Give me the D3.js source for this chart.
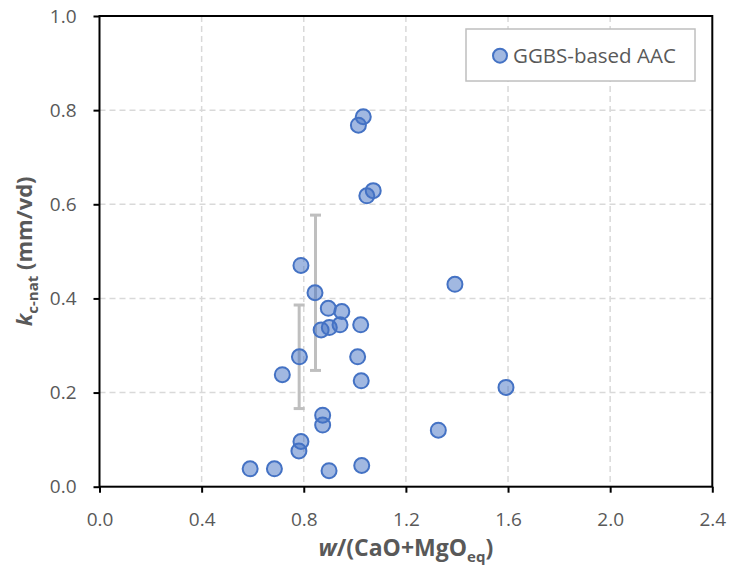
<!DOCTYPE html>
<html>
<head>
<meta charset="utf-8">
<script src="https://cdn.jsdelivr.net/npm/d3@7"></script>
<style>
  html, body { margin: 0; padding: 0; background: #fff; }
  svg { display: block; }
  text { font-family: "Open Sans", "Liberation Sans", sans-serif; fill: #595959; }
</style>
</head>
<body>
<svg id="chart" width="729" height="576"></svg>
<script>
// ---- data ----
const xValues = [0.590, 0.685, 0.781, 0.789, 0.899, 1.027, 1.327, 0.874, 0.874, 0.716,
                 0.783, 1.025, 1.011, 1.592, 0.868, 0.900, 0.942, 1.023, 0.896, 0.949,
                 0.844, 0.789, 1.392, 1.047, 1.072, 1.014, 1.033];
const yValues = [0.038, 0.038, 0.076, 0.096, 0.034, 0.045, 0.120, 0.131, 0.152, 0.238,
                 0.276, 0.225, 0.276, 0.211, 0.333, 0.338, 0.344, 0.344, 0.379, 0.372,
                 0.412, 0.470, 0.430, 0.618, 0.629, 0.768, 0.786];
const errX = [0.846, 0.782];
const errY = [0.412, 0.276];
const errDelta = [0.165, 0.110];
const xTicks = [0.0, 0.4, 0.8, 1.2, 1.6, 2.0, 2.4];
const yTicks = [0.0, 0.2, 0.4, 0.6, 0.8, 1.0];
const seriesName = "GGBS-based AAC";

// ---- layout ----
const svg = d3.select("#chart");
const L = 99.5, R = 712.3, T = 16, B = 486.7;
const x = d3.scaleLinear().domain([0, 2.4]).range([L, R]);
const y = d3.scaleLinear().domain([0, 1.0]).range([B, T]);

// gridlines
const grid = svg.append("g");
grid.selectAll("line.v").data(xTicks.slice(1, -1)).enter().append("line")
  .attr("x1", d => x(d)).attr("x2", d => x(d)).attr("y1", T).attr("y2", B)
  .attr("stroke", "#d9d9d9").attr("stroke-width", 1.5).attr("stroke-dasharray", "6,4");
grid.selectAll("line.h").data(yTicks.slice(1, -1)).enter().append("line")
  .attr("y1", d => y(d)).attr("y2", d => y(d)).attr("x1", L).attr("x2", R)
  .attr("stroke", "#d9d9d9").attr("stroke-width", 1.5).attr("stroke-dasharray", "6,4");

// axes
const fmt = d3.format(".1f");
const xAxis = svg.append("g").attr("transform", `translate(0,${B})`)
  .call(d3.axisBottom(x).tickValues(xTicks).tickFormat(fmt).tickSize(6).tickSizeOuter(0));
const yAxis = svg.append("g").attr("transform", `translate(${L},0)`)
  .call(d3.axisLeft(y).tickValues(yTicks).tickFormat(fmt).tickSize(6).tickSizeOuter(0));
[xAxis, yAxis].forEach(a => {
  a.select(".domain").remove();
  a.selectAll(".tick line").attr("stroke", "#000").attr("stroke-width", 2);
  a.selectAll(".tick text").attr("fill", "#595959").style("font-size", "19px")
   .style("font-family", "'Open Sans', sans-serif");
});
xAxis.selectAll(".tick text").attr("y", 26);
yAxis.selectAll(".tick text").attr("x", -23);

// plot border
svg.append("rect").attr("x", L).attr("y", T).attr("width", R - L).attr("height", B - T)
  .attr("fill", "none").attr("stroke", "#000").attr("stroke-width", 2);

// error bars
const eb = svg.append("g").attr("stroke", "#bfbfbf").attr("stroke-width", 3).attr("fill", "none");
errX.forEach((ex, i) => {
  const y0 = y(errY[i] - errDelta[i]), y1 = y(errY[i] + errDelta[i]);
  eb.append("line").attr("x1", x(ex)).attr("x2", x(ex)).attr("y1", y0).attr("y2", y1);
  eb.append("line").attr("x1", x(ex) - 5.5).attr("x2", x(ex) + 5.5).attr("y1", y0).attr("y2", y0);
  eb.append("line").attr("x1", x(ex) - 5.5).attr("x2", x(ex) + 5.5).attr("y1", y1).attr("y2", y1);
});

// points
svg.append("g").selectAll("circle").data(xValues.map((v, i) => [v, yValues[i]])).enter()
  .append("circle")
  .attr("cx", d => x(d[0])).attr("cy", d => y(d[1])).attr("r", 7.5)
  .attr("fill", "rgba(68,114,196,0.5)").attr("stroke", "#4472c4").attr("stroke-width", 2);

// legend
const lg = svg.append("g");
lg.append("rect").attr("x", 466).attr("y", 29).attr("width", 229).attr("height", 52)
  .attr("fill", "#fff").attr("stroke", "#bfbfbf").attr("stroke-width", 1.5);
lg.append("circle").attr("cx", 500).attr("cy", 55.7).attr("r", 7)
  .attr("fill", "rgba(68,114,196,0.5)").attr("stroke", "#4472c4").attr("stroke-width", 2);
lg.append("text").attr("x", 513).attr("y", 62.5).style("font-size", "20.5px").text(seriesName);

// axis titles
const xt = svg.append("text").attr("x", (L + R) / 2).attr("y", 556).attr("text-anchor", "middle")
  .style("font-size", "23px").style("font-weight", "bold");
xt.append("tspan").style("font-style", "italic").text("w");
xt.append("tspan").text("/(CaO+MgO");
xt.append("tspan").attr("dy", 6).style("font-size", "15px").text("eq");
xt.append("tspan").attr("dy", -6).text(")");

const yt = svg.append("text").attr("transform", `translate(32,${(T + B) / 2}) rotate(-90)`)
  .attr("text-anchor", "middle").style("font-size", "22px").style("font-weight", "bold");
yt.append("tspan").style("font-style", "italic").text("k");
yt.append("tspan").attr("dy", 6).style("font-size", "15px").text("c-nat");
yt.append("tspan").attr("dy", -6).text(" (mm/vd)");
</script>
</body>
</html>
